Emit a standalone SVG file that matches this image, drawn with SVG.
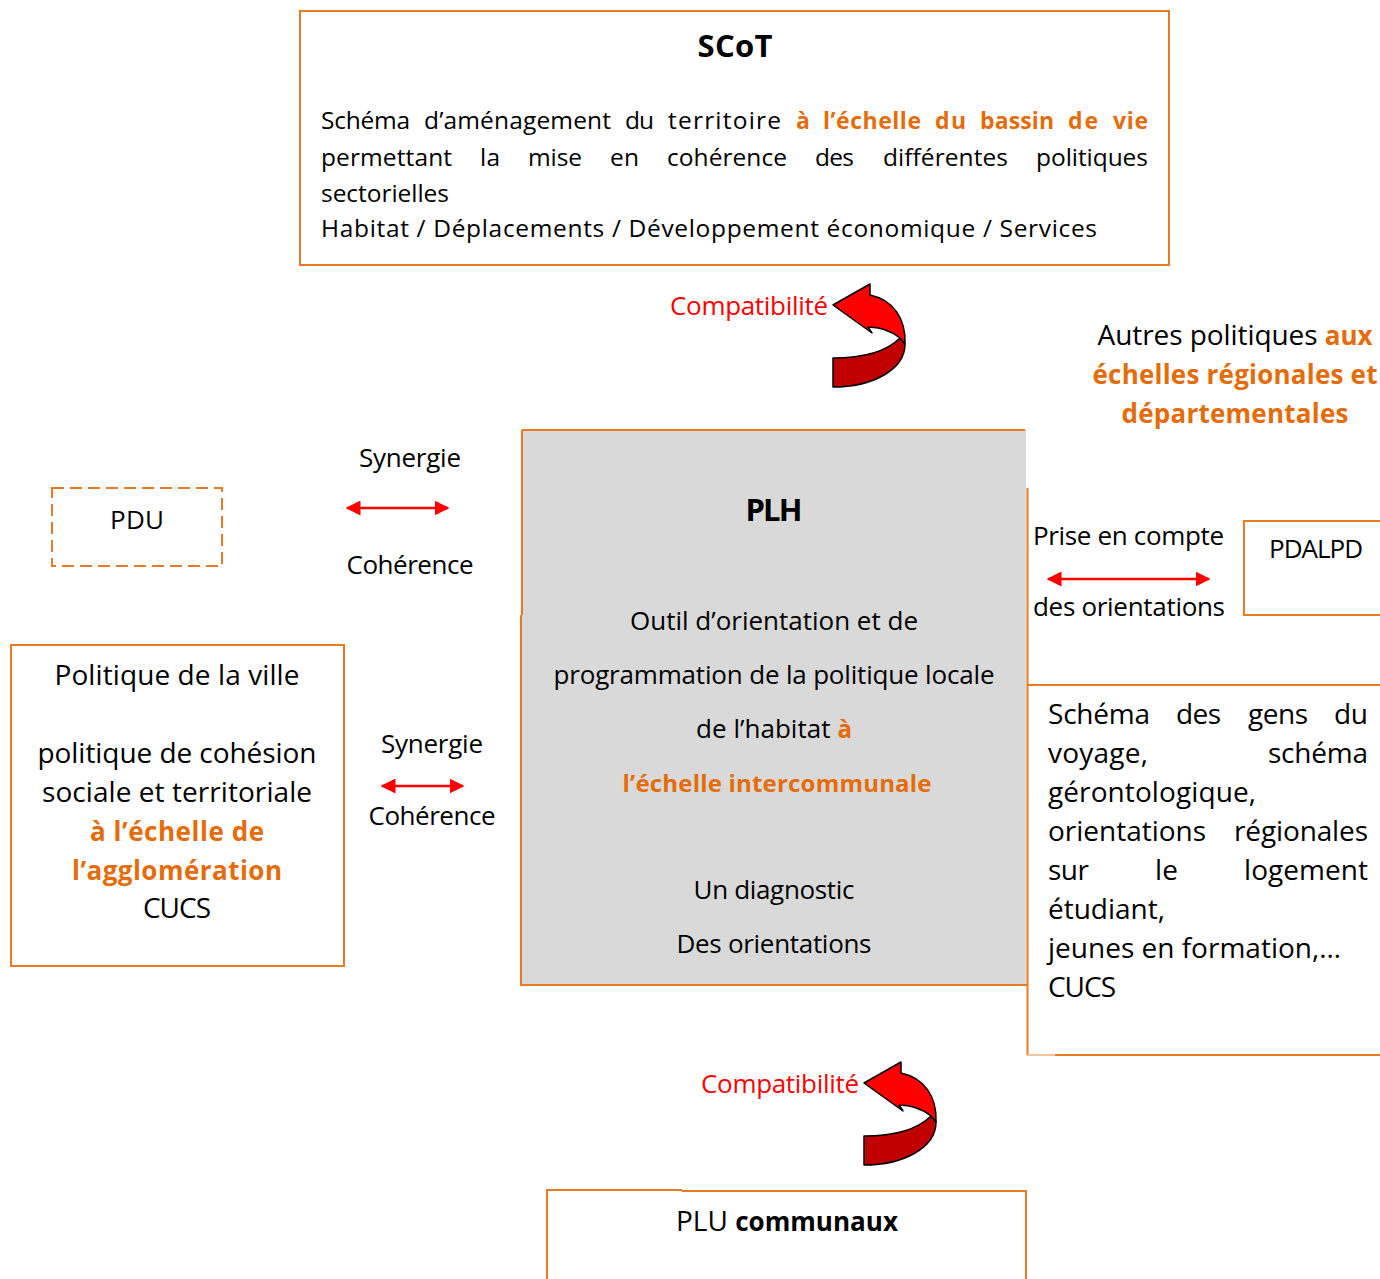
<svg xmlns="http://www.w3.org/2000/svg" width="1380" height="1279" viewBox="0 0 1380 1279">
<defs>
<style>
text{font-family:"Open Sans","Liberation Sans",sans-serif;font-size:28px;fill:#000}
text.s{font-size:24.5px}
text.m{font-size:26px}
text.t{font-size:31px;font-weight:bold}
.b{font-weight:bold}
.o{fill:#E46C0A;font-weight:bold}
text.o{font-size:26px}
text.m.o{font-size:24px}
text.s.o{font-size:23px}
tspan.o,tspan.b{font-size:0.93em}
.red{fill:#FF0000}
.box{fill:none;stroke:#E97A24;stroke-width:2}
.ln{stroke:#E97A24;stroke-width:2;fill:none}
.dbl{stroke:#FF0000;stroke-width:2.5;marker-start:url(#ah);marker-end:url(#ah)}
</style>
<marker id="ah" viewBox="0 0 10 10" refX="9" refY="5" markerWidth="6" markerHeight="6" orient="auto-start-reverse" markerUnits="strokeWidth">
<path d="M0,0 L10,5 L0,10 Z" fill="#FF0000"/>
</marker>
<g id="carrow">
<path d="M833,358 C862,358 886,352 900,338 L905,344 C905,370 872,387 833,387 Z" fill="#C00000" stroke="#000" stroke-width="1.5" stroke-linejoin="round"/>
<path d="M833,305 L870,284 L870,295 C893,300 906,318 905,344 L900,338 C890,330 880,327 868,327 L872,333 Z" fill="#FF0000" stroke="#000" stroke-width="1.5" stroke-linejoin="round"/>
</g>
</defs>
<rect width="1380" height="1279" fill="#fff"/>

<g id="scot">
<rect class="box" x="300" y="11" width="869" height="254"/>
<text class="t" x="735" y="57" text-anchor="middle" textLength="75">SCoT</text>
<text class="s" x="321" y="129" textLength="89">Schéma</text>
<text class="s" x="424" y="129" textLength="187">d’aménagement</text>
<text class="s" x="625" y="129" textLength="29">du</text>
<text class="s" x="668" y="129" textLength="113">territoire</text>
<text class="s o" x="796" y="129" textLength="14">à</text>
<text class="s o" x="823" y="129" textLength="98">l’échelle</text>
<text class="s o" x="935" y="129" textLength="31">du</text>
<text class="s o" x="980" y="129" textLength="74">bassin</text>
<text class="s o" x="1068" y="129" textLength="30">de</text>
<text class="s o" x="1113" y="129" textLength="35">vie</text>
<text class="s" x="321" y="166" textLength="131">permettant</text>
<text class="s" x="480" y="166" textLength="20">la</text>
<text class="s" x="528" y="166" textLength="54">mise</text>
<text class="s" x="610" y="166" textLength="29">en</text>
<text class="s" x="667" y="166" textLength="120">cohérence</text>
<text class="s" x="815" y="166" textLength="39">des</text>
<text class="s" x="883" y="166" textLength="125">différentes</text>
<text class="s" x="1036" y="166" textLength="112">politiques</text>
<text class="s" x="321" y="202" textLength="128">sectorielles</text>
<text class="s" x="321" y="237" textLength="776">Habitat / Déplacements / Développement économique / Services</text>
</g>

<g id="pdu">
<rect x="52" y="488" width="170" height="78" fill="none" stroke="#E97A24" stroke-width="2" stroke-dasharray="12,6"/>
<text class="m" x="137" y="529" text-anchor="middle" textLength="54">PDU</text>
</g>

<g id="politique-ville">
<rect class="box" x="11" y="645" width="333" height="321"/>
<text x="177" y="685" text-anchor="middle" textLength="245">Politique de la ville</text>
<text x="177" y="763" text-anchor="middle" textLength="279">politique de cohésion</text>
<text x="177" y="802" text-anchor="middle" textLength="270">sociale et territoriale</text>
<text class="o" x="177" y="841" text-anchor="middle" textLength="174">à l’échelle de</text>
<text class="o" x="177" y="880" text-anchor="middle" textLength="210">l’agglomération</text>
<text x="177" y="918" text-anchor="middle" textLength="68">CUCS</text>
</g>

<g id="plh">
<rect x="522" y="430" width="504" height="555" fill="#D9D9D9"/>
<line class="ln" x1="522" y1="430" x2="1025" y2="430"/>
<line class="ln" x1="522" y1="430" x2="522" y2="615" stroke-width="1.5"/>
<line class="ln" x1="521" y1="615" x2="521" y2="986" stroke-width="2.5"/>
<line class="ln" x1="520" y1="985" x2="1027" y2="985"/>
<text class="t" x="774" y="521" text-anchor="middle" textLength="57">PLH</text>
<text class="m" x="774" y="630" text-anchor="middle" textLength="288">Outil d’orientation et de</text>
<text class="m" x="774" y="684" text-anchor="middle" textLength="441">programmation de la politique locale</text>
<text class="m" x="774" y="738" text-anchor="middle" textLength="156">de l’habitat <tspan class="o">à</tspan></text>
<text class="m o" x="777" y="792" text-anchor="middle" textLength="309">l’échelle intercommunale</text>
<text class="m" x="774" y="899" text-anchor="middle" textLength="161">Un diagnostic</text>
<text class="m" x="774" y="953" text-anchor="middle" textLength="195">Des orientations</text>
</g>

<g id="autres">
<text x="1235" y="345" text-anchor="middle" textLength="275">Autres politiques <tspan class="o">aux</tspan></text>
<text class="o" x="1235" y="384" text-anchor="middle" textLength="285">échelles régionales et</text>
<text class="o" x="1235" y="423" text-anchor="middle" textLength="227">départementales</text>
</g>

<g id="pdalpd">
<path class="ln" d="M1380,521 L1244,521 L1244,615 L1380,615"/>
<text class="m" x="1316" y="558" text-anchor="middle" textLength="94">PDALPD</text>
</g>

<g id="schemas">
<line class="ln" x1="1027.5" y1="488" x2="1027.5" y2="1055"/>
<line class="ln" x1="1027" y1="685" x2="1380" y2="685"/>
<line class="ln" x1="1055" y1="1055" x2="1380" y2="1055"/>
<line x1="1027" y1="1055" x2="1055" y2="1055" stroke="#F4B183" stroke-width="1.5"/>
<text x="1048" y="724" textLength="102">Schéma</text>
<text x="1176" y="724" textLength="45">des</text>
<text x="1248" y="724" textLength="60">gens</text>
<text x="1334" y="724" textLength="34">du</text>
<text x="1048" y="763" textLength="100">voyage,</text>
<text x="1268" y="763" textLength="100">schéma</text>
<text x="1048" y="802" textLength="208">gérontologique,</text>
<text x="1048" y="841" textLength="158">orientations</text>
<text x="1234" y="841" textLength="134">régionales</text>
<text x="1048" y="880" textLength="41">sur</text>
<text x="1155" y="880" textLength="23">le</text>
<text x="1244" y="880" textLength="124">logement</text>
<text x="1048" y="919" textLength="117">étudiant,</text>
<text x="1048" y="958" textLength="293">jeunes en formation,…</text>
<text x="1048" y="997" textLength="68">CUCS</text>
</g>

<g id="plu">
<path class="ln" d="M547,1279 L547,1190 L682,1190"/>
<path class="ln" d="M682,1191 L1026,1191 L1026,1279"/>
<text x="787" y="1231" text-anchor="middle" textLength="222">PLU <tspan class="b">communaux</tspan></text>
</g>

<g id="connectors">
<text class="m red" x="670" y="315" textLength="158">Compatibilité</text>
<use href="#carrow"/>
<text class="m red" x="701" y="1093" textLength="158">Compatibilité</text>
<use href="#carrow" transform="translate(31,778)"/>
<text class="m" x="410" y="467" text-anchor="middle" textLength="102">Synergie</text>
<line class="dbl" x1="347" y1="508" x2="448" y2="508"/>
<text class="m" x="410" y="574" text-anchor="middle" textLength="127">Cohérence</text>
<text class="m" x="432" y="753" text-anchor="middle" textLength="102">Synergie</text>
<line class="dbl" x1="382" y1="786" x2="463" y2="786"/>
<text class="m" x="432" y="825" text-anchor="middle" textLength="127">Cohérence</text>
<text class="m" x="1033" y="545" textLength="191">Prise en compte</text>
<line class="dbl" x1="1048" y1="579" x2="1209" y2="579"/>
<text class="m" x="1033" y="616" textLength="192">des orientations</text>
</g>
</svg>
